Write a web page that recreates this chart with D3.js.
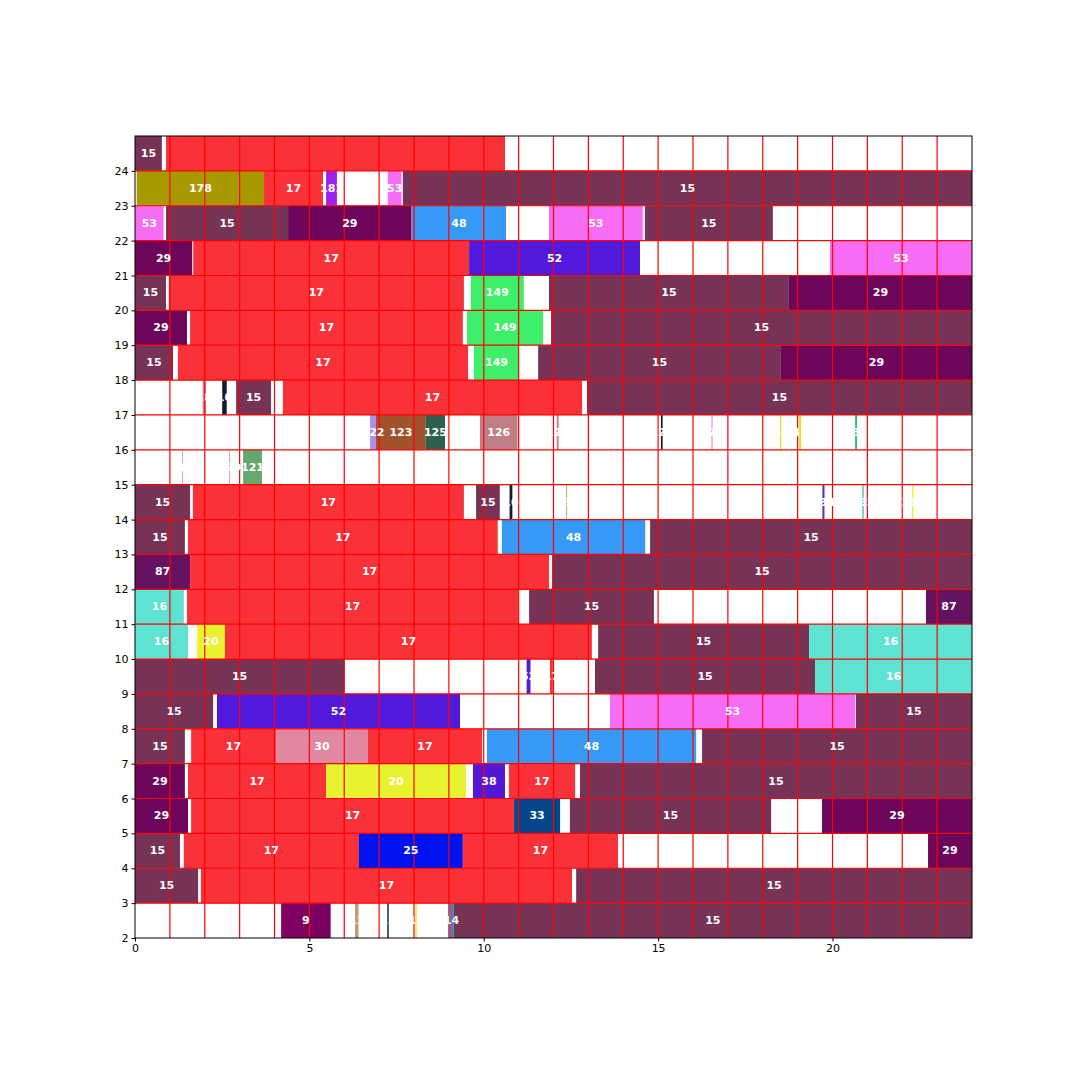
<!DOCTYPE html>
<html>
<head>
<meta charset="utf-8">
<script src="https://cdn.jsdelivr.net/npm/d3@7"></script>
<style>
  body { margin: 0; background: #fff; }
  text { font-family: "DejaVu Sans", sans-serif; }
</style>
</head>
<body>
<svg id="SVG_CONTAINER" width="1080" height="1080"></svg>
<script>
// rows are identified by their lower y value
const segRow = [
  24, 24,
  23, 23, 23, 23, 23,
  22, 22, 22, 22, 22, 22,
  21, 21, 21, 21,
  20, 20, 20, 20, 20,
  19, 19, 19, 19,
  18, 18, 18, 18, 18,
  17, 17, 17, 17, 17,
  16, 16, 16, 16, 16, 16, 16, 16, 16, 16,
  15, 15, 15,
  14, 14, 14, 14, 14, 14, 14, 14,
  13, 13, 13, 13,
  12, 12, 12,
  11, 11, 11, 11,
  10, 10, 10, 10, 10,
  9, 9, 9, 9, 9,
  8, 8, 8, 8,
  7, 7, 7, 7, 7, 7,
  6, 6, 6, 6, 6, 6,
  5, 5, 5, 5, 5,
  4, 4, 4, 4, 4,
  3, 3, 3,
  2, 2, 2, 2, 2, 2
];
const segStart = [
  0, 0.89,
  0.05, 3.7, 5.48, 7.25, 7.68,
  0, 0.89, 4.39, 7.94, 11.87, 14.62,
  0, 1.67, 9.58, 19.93,
  0, 0.97, 9.63, 11.87, 18.75,
  0, 1.58, 9.52, 11.93,
  0, 1.23, 9.72, 11.56, 18.52,
  1.94, 2.5, 2.9, 4.24, 12.96,
  6.74, 6.91, 8.34, 9.89, 12.09, 15.08, 16.52, 18.5, 19.04, 20.65,
  1.35, 2.7, 3.1,
  0, 1.66, 9.78, 10.74, 12.36, 19.71, 20.86, 22.28,
  0, 1.52, 10.52, 14.77,
  0, 1.58, 11.96,
  0, 1.49, 11.3, 22.68,
  0, 1.78, 2.58, 13.28, 19.33,
  0, 11.23, 11.9, 13.19, 19.5,
  0, 2.35, 13.62, 20.67,
  0, 1.61, 4.04, 6.68, 10.09, 16.26,
  0, 1.52, 5.48, 9.69, 10.72, 12.76,
  0, 1.61, 10.87, 12.47, 19.7,
  0, 1.4, 6.42, 9.4, 22.74,
  0, 1.89, 12.65,
  4.19, 6.31, 7.23, 8.03, 9.01, 9.14
];
const segEnd = [
  0.77, 10.61,
  3.7, 5.39, 5.79, 7.64, 24,
  0.82, 4.39, 7.93, 10.64, 14.56, 18.29,
  1.64, 9.58, 14.48, 24,
  0.89, 9.43, 11.15, 18.75, 24,
  1.49, 9.4, 11.7, 24,
  1.09, 9.55, 11.01, 18.52, 24,
  2.03, 2.63, 3.9, 12.82, 24,
  6.91, 8.34, 8.89, 10.97, 12.15, 15.13, 16.57, 18.53, 19.1, 20.7,
  1.37, 2.72, 3.64,
  1.58, 9.43, 10.46, 10.82, 12.39, 19.77, 20.89, 22.32,
  1.43, 10.4, 14.63, 24,
  1.58, 11.87, 24,
  1.4, 10.98, 14.88, 24,
  1.52, 2.58, 13.1, 19.33, 24,
  6.0, 11.34, 11.98, 19.5, 24,
  2.24, 9.32, 20.65, 24,
  1.43, 4.04, 6.68, 9.95, 16.09, 24,
  1.43, 5.48, 9.49, 10.61, 12.62, 24,
  1.52, 10.87, 12.19, 18.24, 24,
  1.29, 6.42, 9.4, 13.85, 24,
  1.81, 12.53, 24,
  5.61, 6.41, 7.28, 8.09, 9.14, 24
];
const segCode = [
  "15", "17",
  "178", "17", "181", "53", "15",
  "53", "15", "29", "48", "53", "15",
  "29", "17", "52", "53",
  "15", "17", "149", "15", "29",
  "29", "17", "149", "15",
  "15", "17", "149", "15", "29",
  "18", "10", "15", "17", "15",
  "122", "123", "125", "126", "127", "128", "129", "40", "41", "132",
  "119", "120", "121",
  "15", "17", "15", "10", "133", "134", "135", "136",
  "15", "17", "48", "15",
  "87", "17", "15",
  "16", "17", "15", "87",
  "16", "20", "17", "15", "16",
  "15", "52", "17", "15", "16",
  "15", "52", "53", "15",
  "15", "17", "30", "17", "48", "15",
  "29", "17", "20", "38", "17", "15",
  "29", "17", "33", "15", "29",
  "15", "17", "25", "17", "29",
  "15", "17", "15",
  "9", "11", "12", "13", "14", "15"
];
// segments whose label is not drawn
const hiddenLabel = [1];

const xTicks = [0, 5, 10, 15, 20];
const yTicks = d3.range(2, 25);

const palette = {
  "9": "#7e0060", "10": "#141c2c", "11": "#c29a78", "12": "#2a4a5a",
  "13": "#e0f070", "14": "#5a78b0", "15": "#763355", "16": "#5ee2d2",
  "17": "#f93138", "18": "#e8788a", "20": "#e9f22e", "25": "#0012ee",
  "29": "#6d055a", "30": "#e088a2", "33": "#05468a", "38": "#5218d6",
  "40": "#b0f000", "41": "#e8e030",
  "48": "#3599f5", "52": "#5119db", "53": "#f66cf2", "87": "#651260",
  "119": "#e07898", "120": "#c080c8", "121": "#64a86e", "122": "#a890f0",
  "123": "#a0522d", "125": "#2e6050", "126": "#c07e86", "127": "#d08890",
  "128": "#1a1a30", "129": "#f0b0e0",
  "132": "#10c060", "133": "#b8b848", "134": "#6030b8", "135": "#10a8b8",
  "136": "#f0f040", "149": "#3ef069", "178": "#a79a00", "181": "#a020f0"
};

const MARGIN = { LEFT: 135, RIGHT: 108, TOP: 136, BOTTOM: 142 };
const width = 1080, height = 1080;

let svg = d3.select("#SVG_CONTAINER");

let xScale = d3.scaleLinear()
  .domain([0, 24])
  .range([MARGIN.LEFT, width - MARGIN.RIGHT]);
let yScale = d3.scaleLinear()
  .domain([2, 25])
  .range([height - MARGIN.BOTTOM, MARGIN.TOP]);

let segs = segRow.map((r, i) => ({
  row: r, x0: segStart[i], x1: segEnd[i], code: segCode[i],
  show: hiddenLabel.indexOf(i) < 0
}));

// bars
svg.append("g")
  .selectAll("rect")
  .data(segs)
  .enter()
  .append("rect")
  .attr("x", d => xScale(d.x0))
  .attr("y", d => yScale(d.row + 1))
  .attr("width", d => xScale(d.x1) - xScale(d.x0))
  .attr("height", d => yScale(d.row) - yScale(d.row + 1))
  .style("fill", d => palette[d.code]);

// red grid on top
let grid = svg.append("g");
grid.selectAll("line.v")
  .data(d3.range(1, 24))
  .enter().append("line")
  .attr("x1", d => xScale(d)).attr("x2", d => xScale(d))
  .attr("y1", yScale(2)).attr("y2", yScale(25))
  .style("stroke", "#ff0000").style("stroke-width", 1.2);
grid.selectAll("line.h")
  .data(d3.range(3, 25))
  .enter().append("line")
  .attr("x1", xScale(0)).attr("x2", xScale(24))
  .attr("y1", d => yScale(d)).attr("y2", d => yScale(d))
  .style("stroke", "#ff0000").style("stroke-width", 1.2);

// labels
svg.append("g")
  .selectAll("text")
  .data(segs.filter(d => d.show))
  .enter()
  .append("text")
  .attr("x", d => xScale((d.x0 + d.x1) / 2))
  .attr("y", d => yScale(d.row + 0.5))
  .attr("text-anchor", "middle")
  .attr("dominant-baseline", "central")
  .style("fill", "#ffffff")
  .style("font-weight", "bold")
  .style("font-size", "11px")
  .text(d => d.code);

// axes
let xAxis = d3.axisBottom(xScale).tickValues(xTicks).tickSize(3.5).tickPadding(3);
let yAxis = d3.axisLeft(yScale).tickValues(yTicks).tickSize(3.5).tickPadding(3);

svg.append("g")
  .attr("transform", "translate(0," + yScale(2) + ")")
  .call(xAxis)
  .call(g => g.select(".domain").remove())
  .selectAll("text").style("font-size", "11px").style("fill", "#000");
svg.append("g")
  .attr("transform", "translate(" + xScale(0) + ",0)")
  .call(yAxis)
  .call(g => g.select(".domain").remove())
  .selectAll("text").style("font-size", "11px").style("fill", "#000");

// frame
svg.append("rect")
  .attr("x", xScale(0)).attr("y", yScale(25))
  .attr("width", xScale(24) - xScale(0))
  .attr("height", yScale(2) - yScale(25))
  .style("fill", "none").style("stroke", "#000").style("stroke-width", 1);
</script>
</body>
</html>
